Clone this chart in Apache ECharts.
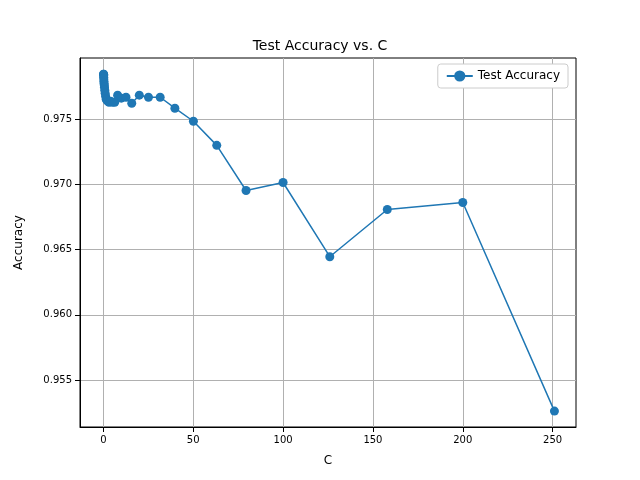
<!DOCTYPE html>
<html><head><meta charset="utf-8">
<script src="https://cdn.jsdelivr.net/npm/echarts@6/dist/echarts.min.js"></script>
<style>html,body{margin:0;background:#fff}#c{width:640px;height:480px}</style>
</head><body><div id="c"></div>
<script>
var cValues = [0.1, 0.126, 0.158, 0.2, 0.251, 0.316, 0.398, 0.501, 0.631, 0.794, 1, 1.26, 1.58, 2, 2.51, 3.16, 3.98, 5.01, 6.31, 7.94, 10, 12.6, 15.8, 20, 25.1, 31.6, 39.8, 50.1, 63.1, 79.4, 100, 126, 158, 200, 251];
var accuracy = [0.97846, 0.97846, 0.97838, 0.97823, 0.97808, 0.97792, 0.97777, 0.97762, 0.97746, 0.97723, 0.97700, 0.97677, 0.97654, 0.97646, 0.97638, 0.97631, 0.97638, 0.97631, 0.97631, 0.97685, 0.97662, 0.97669, 0.97623, 0.97685, 0.97669, 0.97669, 0.97585, 0.97485, 0.97300, 0.96954, 0.97015, 0.96446, 0.96808, 0.96862, 0.95262];
var xTicks = [0, 50, 100, 150, 200, 250];
var yTicks = [0.955, 0.96, 0.965, 0.97, 0.975];

var chart = echarts.init(document.getElementById('c'));
chart.setOption({
  animation: false,
  title: { text: 'Test Accuracy vs. C', left: 'center', top: 34,
    textStyle: { fontFamily: 'DejaVu Sans', fontSize: 14, fontWeight: 'normal', color: '#000' } },
  legend: { right: 72, top: 64, orient: 'vertical', backgroundColor: '#fff', borderColor: '#ccc', borderWidth: 1, borderRadius: 3,
    padding: [6, 8], itemWidth: 26, textStyle: { fontFamily: 'DejaVu Sans', fontSize: 12, color: '#000' }, data: ['Test Accuracy'] },
  grid: { left: 80, right: 64, top: 58, bottom: 53, show: true, borderColor: '#000', borderWidth: 1 },
  xAxis: { type: 'value', min: -13, max: 263, name: 'C', nameLocation: 'middle', nameGap: 28,
    nameTextStyle: { fontFamily: 'DejaVu Sans', fontSize: 12, color: '#000' },
    axisLine: { onZero: false, lineStyle: { color: '#000' } }, axisTick: { show: true, customValues: xTicks, lineStyle: { color: '#000' } },
    axisLabel: { customValues: xTicks, color: '#000', fontFamily: 'DejaVu Sans', fontSize: 10 },
    splitLine: { show: true, customValues: xTicks, lineStyle: { color: '#b0b0b0' } } },
  yAxis: { type: 'value', min: 0.9514, max: 0.9797, name: 'Accuracy', nameLocation: 'middle', nameGap: 55,
    nameTextStyle: { fontFamily: 'DejaVu Sans', fontSize: 12, color: '#000' },
    axisLine: { show: true, onZero: false, lineStyle: { color: '#000' } }, axisTick: { show: true, lineStyle: { color: '#000' }, customValues: yTicks },
    axisLabel: { color: '#000', fontFamily: 'DejaVu Sans', fontSize: 10, customValues: yTicks, formatter: function (v) { return v.toFixed(3); } },
    splitLine: { show: true, customValues: yTicks, lineStyle: { color: '#b0b0b0' } } },
  series: [{ name: 'Test Accuracy', type: 'line', data: cValues.map(function (c, i) { return [c, accuracy[i]]; }),
    symbol: 'circle', symbolSize: 9, showAllSymbol: true, color: '#1f77b4', lineStyle: { width: 1.5 } }]
});
</script></body></html>
